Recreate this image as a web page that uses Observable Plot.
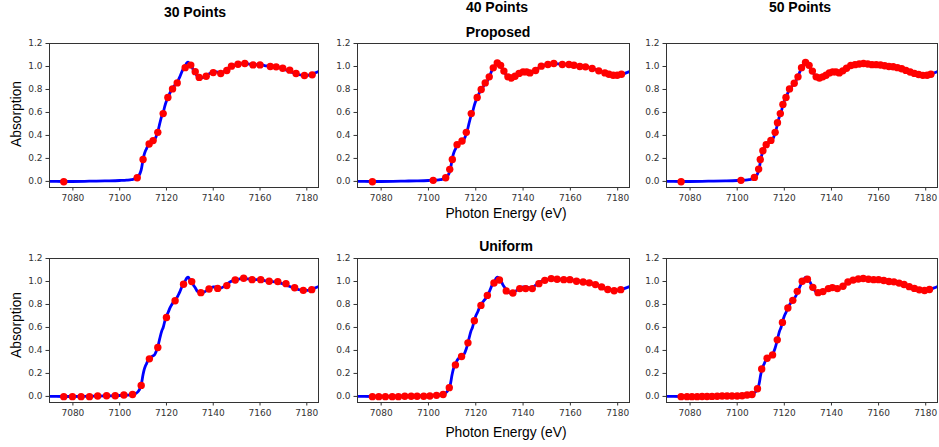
<!DOCTYPE html>
<html>
<head>
<meta charset="utf-8">
<script src="https://cdn.jsdelivr.net/npm/d3@7"></script>
<script src="https://cdn.jsdelivr.net/npm/@observablehq/plot@0.6"></script>
<style>
  html, body { margin: 0; padding: 0; background: #fff; }
  #fig { position: relative; width: 939px; height: 447px; overflow: hidden; background: #fff; }
  .panel { position: absolute; }
  .lbl { position: absolute; transform: translate(-50%, -50%); white-space: nowrap;
         font-family: "Liberation Sans", Arial, sans-serif; color: #000; }
  .title { font-weight: bold; font-size: 14px; }
  .axl { font-size: 13.8px; }
</style>
</head>
<body>
<div id="fig"></div>
<script>
// ---- Reference spectrum (blue line) ----
const curveEnergy = [7065,7070,7076,7085,7090,7095,7100,7103,7105,7107,7108,7108.7,7109.2,7110,7110.5,7111,7111.5,7112,7112.7,7114,7115,7116,7116.7,7117.1,7118,7118.6,7119.3,7120,7120.7,7121.5,7122.3,7123.6,7124.5,7125,7125.7,7126.5,7127.3,7128,7128.7,7129.3,7130,7130.8,7131.5,7132.3,7133.3,7134.5,7135.5,7137,7138.5,7140,7141.5,7143,7144.5,7146,7147.5,7149,7151,7153,7155,7157,7159.5,7162,7164,7166.5,7168.5,7170.5,7172.5,7174.5,7176.5,7178.5,7180,7181.5,7183,7185,7187];
const curveAbs = [0,0,-0.001,0.001,0.003,0.005,0.008,0.011,0.015,0.027,0.045,0.07,0.1,0.19,0.235,0.265,0.285,0.31,0.33,0.35,0.365,0.415,0.465,0.5,0.57,0.6,0.655,0.7,0.73,0.77,0.8,0.838,0.86,0.88,0.91,0.95,0.985,1.005,1.03,1.037,1.015,1.0,0.97,0.945,0.912,0.9,0.903,0.918,0.94,0.952,0.953,0.943,0.955,0.98,1.0,1.012,1.021,1.026,1.022,1.016,1.016,1.008,1.0,0.997,0.988,0.975,0.958,0.943,0.93,0.922,0.922,0.929,0.94,0.955,0.97];

// ---- Proposed sampling ----
const proposed30E = [7076.1,7107.5,7110.0,7112.6,7114.3,7116.3,7118.6,7120.6,7122.6,7124.6,7128.0,7130.4,7132.3,7134.0,7137.0,7140.0,7143.2,7145.8,7147.8,7150.6,7153.5,7157.0,7160.0,7164.4,7166.9,7169.7,7172.7,7175.4,7179.0,7182.3];
const proposed30A = [-0.003,0.032,0.19,0.325,0.355,0.427,0.59,0.73,0.805,0.857,0.99,1.012,0.955,0.905,0.915,0.947,0.939,0.965,1.003,1.02,1.026,1.014,1.014,1.0,0.997,0.985,0.968,0.939,0.921,0.927];

const proposed40E = [7076.3,7102.0,7107.3,7109.0,7110.1,7112.1,7114.2,7116.0,7118.1,7120.6,7122.3,7124.0,7125.7,7127.4,7129.1,7130.5,7131.9,7133.6,7135.0,7136.6,7138.3,7140.0,7141.5,7142.9,7145.3,7147.7,7150.5,7153.0,7156.6,7159.4,7161.5,7164.0,7166.4,7169.2,7172.0,7174.6,7176.3,7178.1,7179.8,7181.6];
const proposed40A = [-0.003,0.009,0.032,0.105,0.19,0.32,0.352,0.427,0.59,0.73,0.80,0.857,0.91,0.988,1.03,1.01,0.96,0.91,0.90,0.915,0.94,0.953,0.953,0.944,0.965,1.003,1.017,1.026,1.017,1.017,1.011,1.0,0.997,0.982,0.962,0.944,0.933,0.924,0.924,0.933];

const proposed50E = [7076.2,7101.6,7107.3,7109.1,7109.8,7110.9,7112.3,7114.3,7116.1,7117.1,7118.3,7119.4,7120.7,7122.2,7124.2,7125.8,7127.3,7129.0,7130.5,7131.9,7133.5,7134.9,7136.3,7137.7,7139.1,7140.5,7141.9,7143.3,7144.8,7146.4,7148.2,7150.0,7151.8,7153.6,7155.4,7157.2,7159.0,7160.8,7162.6,7164.4,7166.2,7168.0,7169.8,7171.6,7173.4,7175.2,7177.0,7178.8,7180.6,7182.2];
const proposed50A = [-0.003,0.009,0.035,0.107,0.19,0.267,0.32,0.357,0.427,0.51,0.59,0.67,0.73,0.805,0.854,0.91,0.99,1.035,1.01,0.96,0.91,0.90,0.91,0.924,0.944,0.953,0.953,0.944,0.962,0.985,1.008,1.016,1.022,1.026,1.022,1.016,1.016,1.013,1.007,1.0,0.998,0.99,0.98,0.966,0.952,0.94,0.93,0.923,0.924,0.932];

// ---- Uniform sampling ----
const uniform30E = [7076.1,7079.8,7083.5,7087.1,7090.6,7094.4,7098.1,7101.8,7105.5,7109.2,7112.7,7116.3,7120.0,7123.7,7127.3,7130.8,7134.7,7138.2,7141.9,7145.8,7149.4,7153.0,7156.6,7160.3,7163.9,7167.6,7171.1,7174.8,7178.5,7182.1];
const uniform30A = [-0.002,-0.002,-0.002,-0.002,0.003,0.006,0.006,0.012,0.017,0.096,0.327,0.425,0.687,0.833,0.976,0.999,0.903,0.935,0.94,0.964,1.013,1.028,1.016,1.016,1.002,0.999,0.981,0.946,0.923,0.929];

const uniform40E = [7076.3,7079.0,7081.8,7084.7,7087.3,7090.0,7092.7,7095.2,7098.0,7100.6,7103.4,7106.2,7108.8,7111.4,7114.0,7116.7,7119.4,7122.2,7124.9,7127.7,7130.0,7132.9,7135.7,7138.6,7141.1,7143.9,7146.7,7149.2,7151.9,7154.4,7157.2,7159.8,7162.6,7165.4,7168.0,7170.6,7173.2,7175.8,7178.5,7181.3];
const uniform40A = [-0.002,-0.002,-0.002,-0.002,-0.002,0.001,0.001,0.001,0.002,0.004,0.009,0.017,0.076,0.274,0.347,0.466,0.658,0.792,0.879,0.987,1.013,0.918,0.9,0.938,0.938,0.938,0.981,1.01,1.025,1.019,1.016,1.016,1.002,0.996,0.988,0.973,0.953,0.93,0.919,0.929];

const uniform50E = [7076.2,7078.7,7080.8,7083.0,7085.1,7087.2,7089.3,7091.5,7093.6,7095.7,7097.8,7100.0,7102.1,7104.2,7106.3,7108.6,7110.4,7112.7,7115.0,7117.0,7119.2,7121.5,7123.6,7125.5,7127.6,7129.8,7132.1,7134.3,7136.4,7138.7,7140.4,7142.5,7144.9,7147.0,7149.2,7151.4,7153.5,7155.7,7157.9,7160.0,7162.2,7164.4,7166.5,7168.7,7170.8,7173.0,7175.2,7177.3,7179.5,7181.6];
const uniform50A = [-0.002,-0.002,-0.002,-0.002,-0.001,-0.001,0.0,0.002,0.003,0.003,0.004,0.004,0.006,0.012,0.017,0.067,0.239,0.332,0.361,0.492,0.644,0.769,0.836,0.914,1.002,1.019,0.949,0.903,0.912,0.938,0.947,0.938,0.958,0.996,1.012,1.022,1.026,1.02,1.016,1.016,1.008,1.0,0.997,0.986,0.974,0.955,0.94,0.927,0.922,0.93];

// ---- Tick labels / text ----
const xTicks = [7080, 7100, 7120, 7140, 7160, 7180];
const yTicks = [0.0, 0.2, 0.4, 0.6, 0.8, 1.0, 1.2];
const columnTitles = ["30 Points", "40 Points", "50 Points"];
const rowTitles = ["Proposed", "Uniform"];
const xLabel = "Photon Energy (eV)";
const yLabel = "Absorption";

const curve = curveEnergy.map((e, i) => ({e, a: curveAbs[i]}));
const toPts = (E, A) => E.map((e, i) => ({e, a: A[i]}));

const fig = document.getElementById("fig");
const ml = 40, mr = 2, mt = 4, mb = 24;

function panel(E, A, left, top, w, h) {
  const chart = Plot.plot({
    width: ml + w + mr,
    height: mt + h + mb,
    marginLeft: ml, marginRight: mr, marginTop: mt, marginBottom: mb,
    style: {fontFamily: "DejaVu Sans", fontSize: "9px", color: "#333", background: "transparent", overflow: "visible"},
    x: {domain: [7070, 7185], ticks: xTicks, tickFormat: d => String(d), tickSize: 3.5, tickPadding: 3.5, label: null},
    y: {domain: [-0.053, 1.2], ticks: yTicks, tickFormat: d3.format(".1f"), tickSize: 3.5, tickPadding: 3.5, label: null},
    marks: [
      Plot.line(curve, {x: "e", y: "a", stroke: "#0000ff", strokeWidth: 2.8, curve: "monotone-x", clip: true}),
      Plot.dot(toPts(E, A), {x: "e", y: "a", r: 3.7, fill: "#ff0000", stroke: "none"}),
      Plot.frame({stroke: "#333", strokeWidth: 1})
    ]
  });
  chart.classList.add("panel");
  chart.style.left = (left - ml) + "px";
  chart.style.top = (top - mt) + "px";
  fig.appendChild(chart);
}

const colLeft = [49, 357, 666];
const colW = [269, 272, 271];
const rowTop = [43, 258];
const ph = 144;
const sets = [
  [[proposed30E, proposed30A], [proposed40E, proposed40A], [proposed50E, proposed50A]],
  [[uniform30E, uniform30A], [uniform40E, uniform40A], [uniform50E, uniform50A]]
];
for (let r = 0; r < 2; r++)
  for (let c = 0; c < 3; c++)
    panel(sets[r][c][0], sets[r][c][1], colLeft[c], rowTop[r], colW[c], ph);

function label(text, x, y, cls, rot) {
  const d = document.createElement("div");
  d.className = "lbl " + cls;
  d.textContent = text;
  d.style.left = x + "px";
  d.style.top = y + "px";
  if (rot) d.style.transform = "translate(-50%, -50%) rotate(-90deg)";
  fig.appendChild(d);
}
label(columnTitles[0], 195, 12, "title");
label(columnTitles[1], 497, 7, "title");
label(columnTitles[2], 800, 7, "title");
label(rowTitles[0], 498, 32, "title");
label(rowTitles[1], 506, 246, "title");
label(xLabel, 506, 213, "axl");
label(xLabel, 506, 432, "axl");
label(yLabel, 16, 114, "axl", true);
label(yLabel, 16, 325, "axl", true);
</script>
</body>
</html>
